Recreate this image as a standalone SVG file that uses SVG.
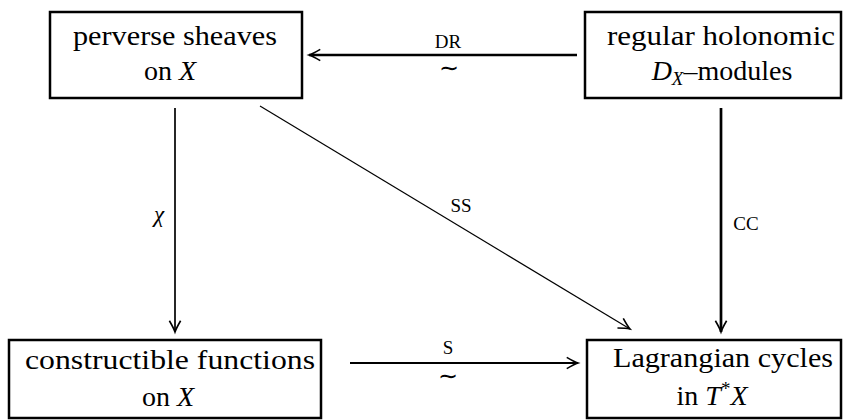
<svg xmlns="http://www.w3.org/2000/svg" width="847" height="420" viewBox="0 0 847 420">
<style>
  .box { fill: #fff; stroke: #000; stroke-width: 2.5; }
  .t { font-size: 28px; fill: #000; text-anchor: middle; }
  .lbl { font-size: 19px; fill: #000; text-anchor: middle; }
  .sim { font-size: 24px; fill: #000; text-anchor: middle; }
  .it { font-style: italic; }
  .ln { fill: none; stroke: #000; }
</style>
<defs>
  <marker id="ah" markerUnits="userSpaceOnUse" markerWidth="20" markerHeight="20" viewBox="-12 -8 14 16" refX="0" refY="0" orient="auto">
    <path d="M -9 -4.5 Q -3 -1 0 0 Q -3 1 -9 4.5" fill="none" stroke="#000" stroke-width="1.3"/>
  </marker>
</defs>
<g font-family="Liberation Serif, serif">
<g id="connectors">
  <line class="ln" x1="577" y1="55" x2="309" y2="55" stroke-width="2.3" marker-end="url(#ah)"/>
  <text class="lbl" x="448" y="48">DR</text>
  <text class="sim" x="449" y="76">∼</text>
  <line class="ln" x1="175" y1="108" x2="175" y2="332" stroke-width="1.7" marker-end="url(#ah)"/>
  <text class="lbl it" x="159" y="222" style="font-size:23px">χ</text>
  <line class="ln" x1="721" y1="108" x2="721" y2="332" stroke-width="2.7" marker-end="url(#ah)"/>
  <text class="lbl" x="746" y="230">CC</text>
  <line class="ln" x1="260" y1="106" x2="630" y2="329" stroke-width="1.2" marker-end="url(#ah)"/>
  <text class="lbl" x="461" y="212">SS</text>
  <line class="ln" x1="350" y1="363" x2="578" y2="363" stroke-width="2" marker-end="url(#ah)"/>
  <text class="lbl" x="448" y="354">S</text>
  <text class="sim" x="448" y="384">∼</text>
</g>
<g id="perverse">
  <rect class="box" x="50" y="12" width="252" height="86"/>
  <text class="t" x="175" y="45" textLength="204" lengthAdjust="spacingAndGlyphs">perverse sheaves</text>
  <text class="t" x="170" y="80">on <tspan class="it">X</tspan></text>
</g>
<g id="dmodules">
  <rect class="box" x="585" y="12" width="256" height="86"/>
  <text class="t" x="721" y="45" textLength="228" lengthAdjust="spacingAndGlyphs">regular holonomic</text>
  <text class="t" x="722" y="80"><tspan class="it">D</tspan><tspan class="it" style="font-size:19px" dy="5">X</tspan><tspan dy="-5">–modules</tspan></text>
</g>
<g id="constructible">
  <rect class="box" x="9" y="340" width="312" height="78"/>
  <text class="t" x="170" y="369" textLength="290" lengthAdjust="spacingAndGlyphs">constructible functions</text>
  <text class="t" x="168" y="406">on <tspan class="it">X</tspan></text>
</g>
<g id="lagrangian">
  <rect class="box" x="587" y="340" width="254" height="78"/>
  <text class="t" x="723" y="367" textLength="220" lengthAdjust="spacingAndGlyphs">Lagrangian cycles</text>
  <text class="t" x="712" y="405">in <tspan class="it">T</tspan><tspan style="font-size:19px" dy="-10">*</tspan><tspan class="it" dy="10">X</tspan></text>
</g>
</g>
</svg>
